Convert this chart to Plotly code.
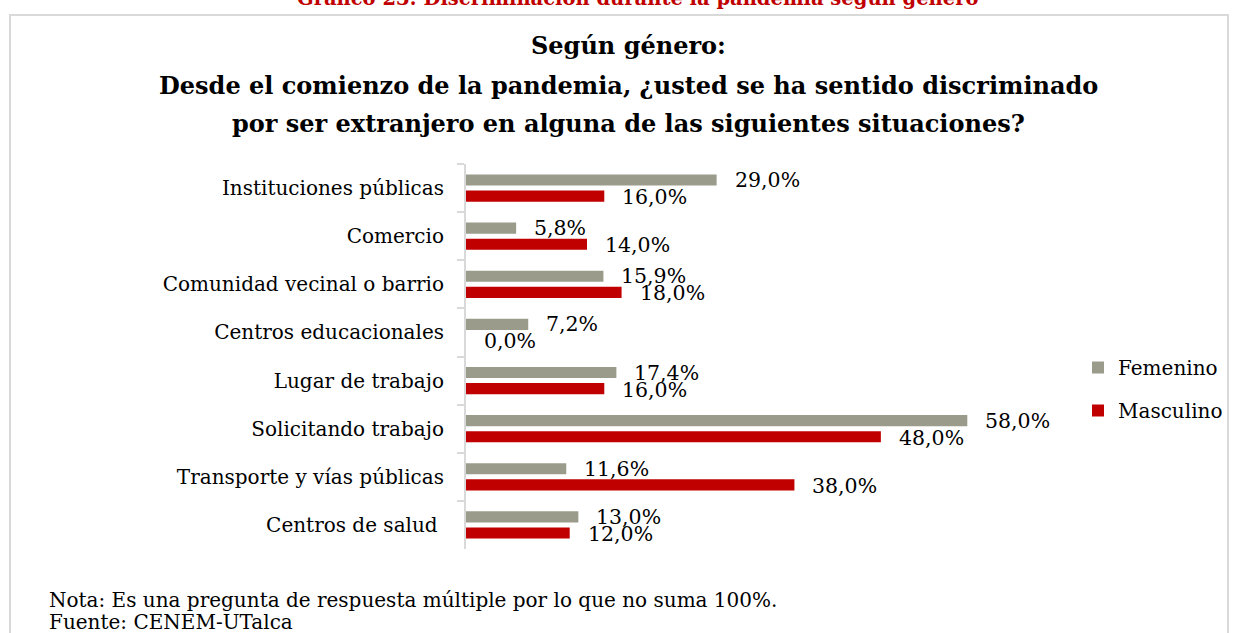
import plotly.graph_objects as go

categories = ["Instituciones públicas", "Comercio", "Comunidad vecinal o barrio",
              "Centros educacionales", "Lugar de trabajo", "Solicitando trabajo",
              "Transporte y vías públicas", "Centros de salud "]
femenino = [29.0, 5.8, 15.9, 7.2, 17.4, 58.0, 11.6, 13.0]
masculino = [16.0, 14.0, 18.0, 0.0, 16.0, 48.0, 38.0, 12.0]
series_names = ["Femenino", "Masculino"]
colors = ["#9b9b8b", "#c00000"]

heading = "Gráfico 23: Discriminación durante la pandemia según género"
title_lines = ["Según género:",
               "Desde el comienzo de la pandemia, ¿usted se ha sentido discriminado",
               "por ser extranjero en alguna de las siguientes situaciones?"]
notes = ["Nota: Es una pregunta de respuesta múltiple por lo que no suma 100%.",
         "Fuente: CENEM-UTalca"]

FONT = "DejaVu Serif"
W, H = 1234, 633
L, R, T, B = 466, 1071, 164, 549


def px2x(px):
    return (px - L) / (R - L)


def py2y(py):
    return (B - py) / (B - T)


def fmt(v):
    return f"{v:.1f}".replace(".", ",") + "%"


fig = go.Figure()
for name, vals, col in zip(series_names, [femenino, masculino], colors):
    fig.add_trace(go.Bar(
        y=categories, x=vals, name=name, orientation="h",
        marker=dict(color=col, line=dict(width=0)),
        legendgroup=name, hoverinfo="skip",
    ))

annotations = []
for vals, ys in zip([femenino, masculino], [8, -9]):
    for c, v in zip(categories, vals):
        annotations.append(dict(
            x=v, y=c, xref="x", yref="y", text=fmt(v), showarrow=False,
            xanchor="left", yanchor="middle", xshift=16, yshift=ys,
            font=dict(family=FONT, size=20.5, color="#000000"),
        ))

annotations.append(dict(
    x=px2x(637), y=py2y(-2), xref="paper", yref="paper", text="<b>" + heading + "</b>",
    showarrow=False, xanchor="center", yanchor="middle",
    font=dict(family=FONT, size=19.5, color="#c00000"),
))
for line, py in zip(title_lines, [46, 85, 123]):
    annotations.append(dict(
        x=px2x(628), y=py2y(py), xref="paper", yref="paper", text="<b>" + line + "</b>",
        showarrow=False, xanchor="center", yanchor="middle",
        font=dict(family=FONT, size=24, color="#000000"),
    ))
for line, py in zip(notes, [600, 622]):
    annotations.append(dict(
        x=px2x(47), y=py2y(py), xref="paper", yref="paper", text=line,
        showarrow=False, xanchor="left", yanchor="middle",
        font=dict(family=FONT, size=20, color="#000000"),
    ))

fig.update_layout(
    width=W, height=H,
    margin=dict(l=L, r=W - R, t=T, b=H - B, pad=0, autoexpand=False),
    paper_bgcolor="white", plot_bgcolor="white",
    barmode="group", bargap=0.33, bargroupgap=0.31,
    font=dict(family=FONT, size=20, color="#000000"),
    showlegend=True,
    legend=dict(
        x=px2x(1078), y=py2y(348), xref="paper", yref="paper",
        xanchor="left", yanchor="top",
        font=dict(family=FONT, size=20, color="#000000"),
        traceorder="grouped", tracegroupgap=14, itemwidth=30,
        bgcolor="rgba(0,0,0,0)",
    ),
    xaxis=dict(range=[0, 70], showgrid=False, zeroline=False, showticklabels=False,
               showline=False, ticks=""),
    yaxis=dict(autorange="reversed", showgrid=False, zeroline=False,
               showline=True, linecolor="#d9d9d9", linewidth=2,
               ticks="outside", tickson="boundaries", ticklen=7, tickcolor="#d9d9d9",
               tickwidth=2, ticklabelstandoff=16,
               tickfont=dict(family=FONT, size=20, color="#000000")),
    annotations=annotations,
    shapes=[dict(type="rect", xref="paper", yref="paper",
                 x0=px2x(10), x1=px2x(1228), y0=py2y(660), y1=py2y(15),
                 line=dict(color="#d9d9d9", width=2), fillcolor="rgba(0,0,0,0)",
                 layer="below")],
)

fig.write_html("out.html", config={"displayModeBar": False},
               post_script="document.body.style.margin='0';document.body.style.overflow='hidden';")
